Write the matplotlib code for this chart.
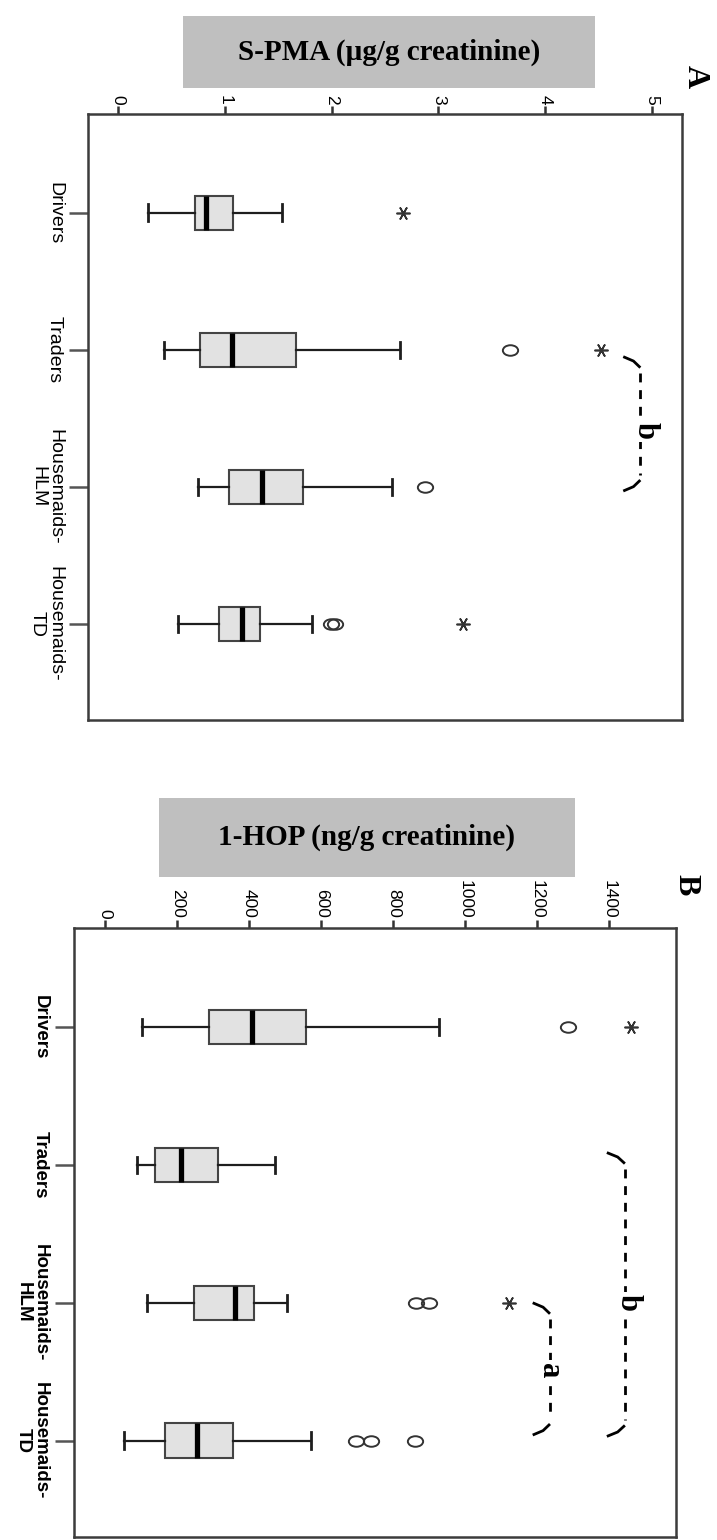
import matplotlib
matplotlib.use('Agg')
import matplotlib.pyplot as plt
from matplotlib.path import Path
from matplotlib.markers import MarkerStyle
from matplotlib.transforms import Affine2D
from matplotlib.patches import Rectangle

plt.rcParams['font.family'] = ['Liberation Sans', 'DejaVu Sans']

categories = ['Drivers', 'Traders', 'Housemaids-\nHLM', 'Housemaids-\nTD']

# panel A: S-PMA (ug/g creatinine)
spma_whislo = [0.28, 0.43, 0.75, 0.56]
spma_q1 = [0.72, 0.77, 1.04, 0.95]
spma_med = [0.82, 1.07, 1.35, 1.16]
spma_q3 = [1.08, 1.67, 1.73, 1.33]
spma_whishi = [1.54, 2.64, 2.57, 1.82]
spma_outliers = [[], [3.67], [2.87], [1.99, 2.03]]
spma_extremes = [[2.67], [4.52], [], [3.23]]
spma_ticks = [0, 1, 2, 3, 4, 5]

# panel B: 1-HOP (ng/g creatinine)
hop_whislo = [103, 88, 115, 51]
hop_q1 = [288, 138, 247, 166]
hop_med = [408, 211, 360, 256]
hop_q3 = [556, 314, 412, 354]
hop_whishi = [926, 472, 504, 571]
hop_outliers = [[1286], [], [863, 899], [696, 738, 859]]
hop_extremes = [[1459], [], [1121], []]
hop_ticks = [0, 200, 400, 600, 800, 1000, 1200, 1400]

W, H = 717, 1540
SERIF = ['Liberation Serif', 'DejaVu Serif']
ellipse = MarkerStyle(Path.unit_circle().transformed(Affine2D().scale(1.45, 1.0)))


def draw_panel(ax, whislo, q1, med, q3, whishi, outliers, extremes, ticks, xlim,
               cat_weight, cat_size):
    stats = [dict(whislo=a, q1=b, med=c, q3=d, whishi=e, fliers=[])
             for a, b, c, d, e in zip(whislo, q1, med, q3, whishi)]
    ax.bxp(stats, positions=range(len(stats)), widths=0.25, orientation='horizontal',
           patch_artist=True, showfliers=False, capwidths=0.12,
           boxprops=dict(facecolor='#e2e2e2', edgecolor='#444444', linewidth=1.5),
           medianprops=dict(color='black', linewidth=3.8),
           whiskerprops=dict(color='#1e1e1e', linewidth=1.6),
           capprops=dict(color='#1e1e1e', linewidth=2.0))
    for i, vals in enumerate(outliers):
        ax.plot(vals, [i] * len(vals), linestyle='none', marker=ellipse, markersize=11,
                markerfacecolor='none', markeredgecolor='#333333', markeredgewidth=1.4)
    for i, vals in enumerate(extremes):
        ax.plot(vals, [i] * len(vals), linestyle='none', marker=(6, 2, 90), markersize=10,
                markeredgecolor='#333333', markeredgewidth=1.2)

    ax.set_xlim(xlim)
    ax.set_ylim(3.7, -0.72)
    ax.xaxis.tick_top()
    ax.set_xticks(ticks)
    ax.set_xticklabels([str(t) for t in ticks])
    ax.set_yticks(range(len(categories)))
    ax.set_yticklabels(categories)
    ax.tick_params(axis='x', direction='out', length=6, width=1.8, pad=1, labelsize=12.5,
                   labelrotation=-90, color='#333333')
    ax.tick_params(axis='y', direction='out', length=14, width=1.8, pad=4,
                   labelsize=cat_size, labelrotation=-90, color='#555555')
    for lbl in ax.get_yticklabels():
        lbl.set_va('center')
        lbl.set_multialignment('center')
        lbl.set_linespacing(1.0)
        lbl.set_fontweight(cat_weight)
    for sp in ax.spines.values():
        sp.set_color('#3c3c3c')
        sp.set_linewidth(1.8)


def draw_bracket(ax, x_line, x_hook, y_top, y_bot, label, label_xy):
    d = 0.08
    for y0, s in ((y_top, 1), (y_bot, -1)):
        ax.plot([x_hook, x_hook + 0.6 * (x_line - x_hook), x_line],
                [y0, y0 + s * 0.4 * d, y0 + s * d],
                color='black', linewidth=2.0, solid_capstyle='butt')
    ax.plot([x_line, x_line], [y_top + d + 0.04, y_bot - d - 0.04], color='black',
            linewidth=2.0, linestyle=(0, (3.2, 2.8)))
    ax.text(label_xy[0], label_xy[1], label, rotation=-90, ha='center', va='center',
            family=SERIF, fontweight='bold', fontsize=22, zorder=5,
            bbox=dict(facecolor='white', edgecolor='none', pad=2))


fig = plt.figure(figsize=(W / 100, H / 100), dpi=100)

# panel A
axA = fig.add_axes([88 / W, 1 - 720 / H, 594 / W, 606 / H])
draw_panel(axA, spma_whislo, spma_q1, spma_med, spma_q3, spma_whishi,
           spma_outliers, spma_extremes, spma_ticks, (-0.28, 5.28), 'normal', 14)
draw_bracket(axA, 4.89, 4.73, 1.05, 2.03, 'b', (4.93, 1.59))

# panel B
axB = fig.add_axes([74 / W, 1 - 1537 / H, 602 / W, 609 / H])
draw_panel(axB, hop_whislo, hop_q1, hop_med, hop_q3, hop_whishi,
           hop_outliers, hop_extremes, hop_ticks, (-87, 1585), 'bold', 13.5)
draw_bracket(axB, 1443, 1393, 0.91, 2.97, 'b', (1452, 2.0))
draw_bracket(axB, 1235, 1187, 2.0, 2.96, 'a', (1235, 2.49))

# grey title boxes
for (x0, x1, y0, y1, txt) in [(183, 595, 16, 88, 'S-PMA (µg/g creatinine)'),
                              (159, 575, 798, 877, '1-HOP (ng/g creatinine)')]:
    fig.patches.append(Rectangle((x0 / W, 1 - y1 / H), (x1 - x0) / W, (y1 - y0) / H,
                                 transform=fig.transFigure, facecolor='#bfbfbf',
                                 edgecolor='none', zorder=-1))
    fig.text((x0 + x1) / 2 / W, 1 - (y0 + y1) / 2 / H, txt, ha='center', va='center',
             family=SERIF, fontweight='bold', fontsize=21)

fig.text(695 / W, 1 - 77 / H, 'A', rotation=-90, ha='center', va='center',
         family=SERIF, fontweight='bold', fontsize=23)
fig.text(686 / W, 1 - 885 / H, 'B', rotation=-90, ha='center', va='center',
         family=SERIF, fontweight='bold', fontsize=23)

fig.savefig('out.png', dpi=100)
